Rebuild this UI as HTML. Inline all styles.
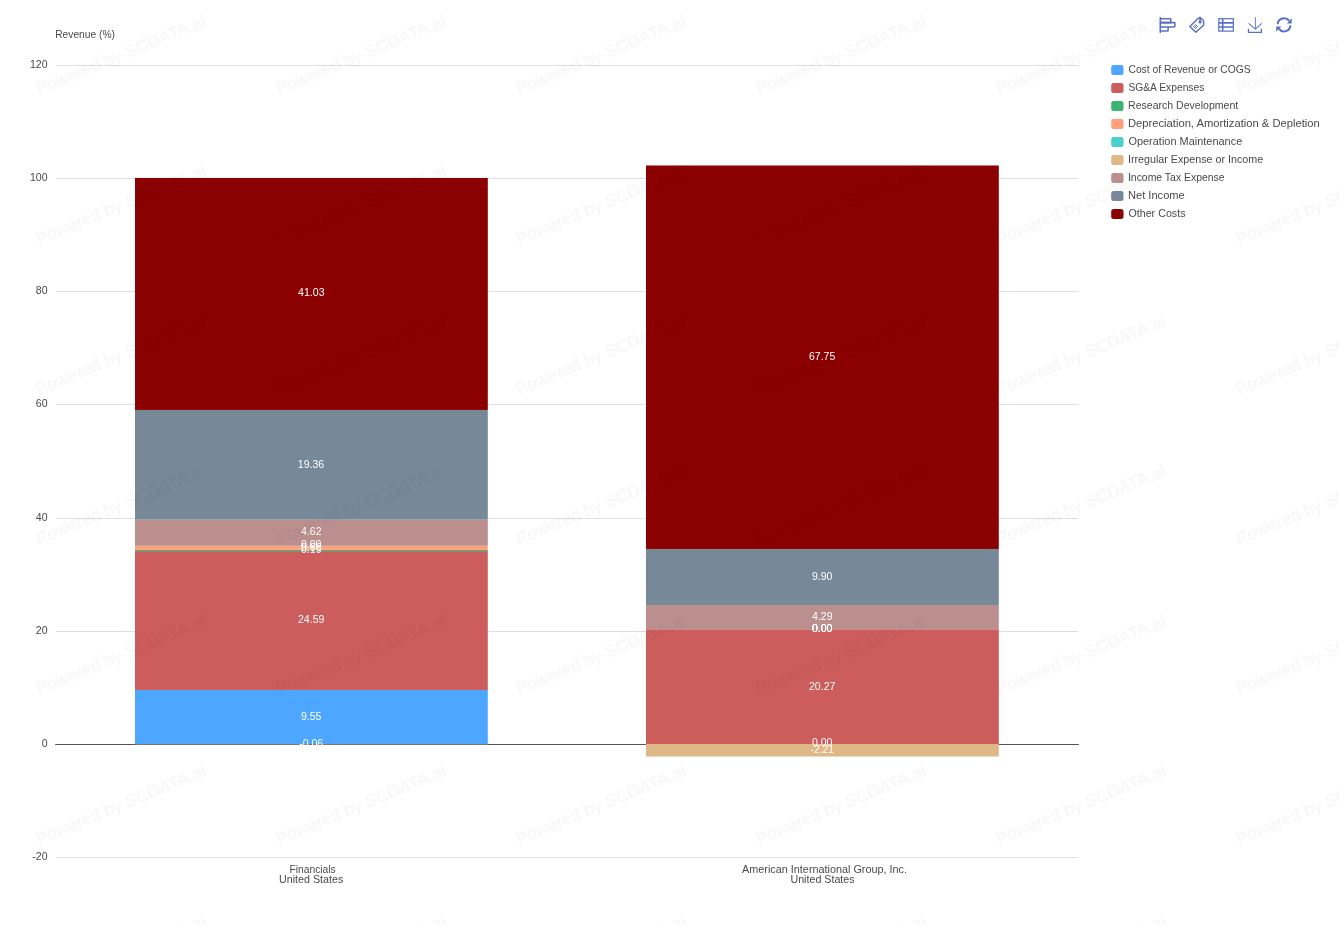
<!DOCTYPE html>
<html><head><meta charset="utf-8"><title>Revenue breakdown</title>
<style>
html,body{margin:0;padding:0;background:#fff;}
body{width:1339px;height:925px;overflow:hidden;font-family:"Liberation Sans",sans-serif;}
svg{display:block;font-family:"Liberation Sans",sans-serif;}
.ax{font-size:11px;fill:#4a4a4a;}
.lbw{font-size:11px;fill:#fff;}
.lg{font-size:11px;fill:#4a4a4a;}
.wm{font-size:17.3px;fill:#000;stroke:#000;stroke-width:0.35px;opacity:0.034;}
</style></head><body>
<svg width="1339" height="925" viewBox="0 0 1339 925">
<g style="mix-blend-mode:multiply"><rect x="0" y="0" width="1" height="1" fill="#fff"/></g>
<g>
<g stroke="#dddee7" stroke-width="1">
<line x1="56" x2="1078" y1="65.5" y2="65.5"/>
<line x1="56" x2="1078" y1="178.5" y2="178.5"/>
<line x1="56" x2="1078" y1="291.5" y2="291.5"/>
<line x1="56" x2="1078" y1="404.5" y2="404.5"/>
<line x1="56" x2="1078" y1="518.5" y2="518.5"/>
<line x1="56" x2="1078" y1="631.5" y2="631.5"/>
<line x1="56" x2="1078" y1="857.5" y2="857.5"/>
</g>
<text class="ax" x="29.90" y="67.9" textLength="17.64" lengthAdjust="spacingAndGlyphs">120</text>
<text class="ax" x="29.90" y="180.9" textLength="17.64" lengthAdjust="spacingAndGlyphs">100</text>
<text class="ax" x="35.78" y="293.9" textLength="11.77" lengthAdjust="spacingAndGlyphs">80</text>
<text class="ax" x="35.78" y="406.9" textLength="11.77" lengthAdjust="spacingAndGlyphs">60</text>
<text class="ax" x="35.79" y="520.9" textLength="11.77" lengthAdjust="spacingAndGlyphs">40</text>
<text class="ax" x="35.78" y="633.9" textLength="11.77" lengthAdjust="spacingAndGlyphs">20</text>
<text class="ax" x="41.66" y="746.9" textLength="5.88" lengthAdjust="spacingAndGlyphs">0</text>
<text class="ax" x="32.30" y="859.9" textLength="15.29" lengthAdjust="spacingAndGlyphs">-20</text>
<text class="ax" x="55.18" y="38" textLength="59.87" lengthAdjust="spacingAndGlyphs">Revenue (%)</text>
<line x1="55.2" x2="1078.9" y1="744.5" y2="744.5" stroke="#50535a" stroke-width="1"/>
<rect x="135.0" y="689.95" width="352.8" height="54.05" fill="#4da6ff"/>
<rect x="135.0" y="551.11" width="352.8" height="138.84" fill="#cd5c5c"/>
<rect x="135.0" y="549.81" width="352.8" height="1.30" fill="#3cb371"/>
<rect x="135.0" y="545.79" width="352.8" height="4.02" fill="#ffa07a"/>
<rect x="135.0" y="519.64" width="352.8" height="26.15" fill="#bc8f8f"/>
<rect x="135.0" y="409.95" width="352.8" height="109.69" fill="#778899"/>
<rect x="135.0" y="177.94" width="352.8" height="232.00" fill="#8b0000"/>
<rect x="135.0" y="744.00" width="352.8" height="0.34" fill="#deb887"/>
<rect x="646.0" y="629.27" width="352.8" height="114.73" fill="#cd5c5c"/>
<rect x="646.0" y="604.99" width="352.8" height="24.28" fill="#bc8f8f"/>
<rect x="646.0" y="548.96" width="352.8" height="56.03" fill="#778899"/>
<rect x="646.0" y="165.49" width="352.8" height="383.47" fill="#8b0000"/>
<rect x="646.0" y="744.00" width="352.8" height="12.51" fill="#deb887"/>
<g>
<text class="lbw" x="300.88" y="720" textLength="20.56" lengthAdjust="spacingAndGlyphs">9.55</text>
<text class="lbw" x="298.00" y="623" textLength="26.43" lengthAdjust="spacingAndGlyphs">24.59</text>
<text class="lbw" x="301.00" y="553" textLength="20.56" lengthAdjust="spacingAndGlyphs">0.19</text>
<text class="lbw" x="301.00" y="550.5" textLength="20.56" lengthAdjust="spacingAndGlyphs">0.66</text>
<text class="lbw" x="300.94" y="548" textLength="20.56" lengthAdjust="spacingAndGlyphs">0.00</text>
<text class="lbw" x="301.06" y="535" textLength="20.56" lengthAdjust="spacingAndGlyphs">4.62</text>
<text class="lbw" x="297.82" y="468" textLength="26.43" lengthAdjust="spacingAndGlyphs">19.36</text>
<text class="lbw" x="298.12" y="296" textLength="26.43" lengthAdjust="spacingAndGlyphs">41.03</text>
<text class="lbw" x="299.14" y="747" textLength="24.08" lengthAdjust="spacingAndGlyphs">-0.06</text>
</g>
<g>
<text class="lbw" x="811.94" y="746" textLength="20.56" lengthAdjust="spacingAndGlyphs">0.00</text>
<text class="lbw" x="809.00" y="690" textLength="26.43" lengthAdjust="spacingAndGlyphs">20.27</text>
<text class="lbw" x="811.94" y="632" textLength="20.56" lengthAdjust="spacingAndGlyphs">0.00</text>
<text class="lbw" x="811.94" y="632" textLength="20.56" lengthAdjust="spacingAndGlyphs">0.00</text>
<text class="lbw" x="811.94" y="632" textLength="20.56" lengthAdjust="spacingAndGlyphs">0.00</text>
<text class="lbw" x="812.06" y="620" textLength="20.56" lengthAdjust="spacingAndGlyphs">4.29</text>
<text class="lbw" x="811.88" y="580" textLength="20.56" lengthAdjust="spacingAndGlyphs">9.90</text>
<text class="lbw" x="808.94" y="360" textLength="26.43" lengthAdjust="spacingAndGlyphs">67.75</text>
<text class="lbw" x="810.57" y="753" textLength="23.32" lengthAdjust="spacingAndGlyphs">-2.21</text>
</g>
<text class="ax" x="289.48" y="872.7" textLength="46.30" lengthAdjust="spacingAndGlyphs">Financials</text>
<text class="ax" x="279.04" y="882.8" textLength="64.26" lengthAdjust="spacingAndGlyphs">United States</text>
<text class="ax" x="742.10" y="872.7" textLength="164.91" lengthAdjust="spacingAndGlyphs">American International Group, Inc.</text>
<text class="ax" x="790.45" y="882.8" textLength="64.16" lengthAdjust="spacingAndGlyphs">United States</text>
<g style="mix-blend-mode:multiply"><rect x="0" y="0" width="1" height="1" fill="#fff"/></g>
<g>
<rect x="1111.2" y="65" width="12.3" height="10" rx="2.5" fill="#4da6ff"/><text class="lg" x="1128.43" y="72.7" textLength="122.22" lengthAdjust="spacingAndGlyphs">Cost of Revenue or COGS</text>
<rect x="1111.2" y="83" width="12.3" height="10" rx="2.5" fill="#cd5c5c"/><text class="lg" x="1128.43" y="90.7" textLength="75.89" lengthAdjust="spacingAndGlyphs">SG&amp;A Expenses</text>
<rect x="1111.2" y="101" width="12.3" height="10" rx="2.5" fill="#3cb371"/><text class="lg" x="1128.06" y="108.7" textLength="110.21" lengthAdjust="spacingAndGlyphs">Research Development</text>
<rect x="1111.2" y="119" width="12.3" height="10" rx="2.5" fill="#ffa07a"/><text class="lg" x="1128.00" y="126.7" textLength="191.71" lengthAdjust="spacingAndGlyphs">Depreciation, Amortization &amp; Depletion</text>
<rect x="1111.2" y="137" width="12.3" height="10" rx="2.5" fill="#48d1cc"/><text class="lg" x="1128.40" y="144.7" textLength="113.88" lengthAdjust="spacingAndGlyphs">Operation Maintenance</text>
<rect x="1111.2" y="155" width="12.3" height="10" rx="2.5" fill="#deb887"/><text class="lg" x="1127.93" y="162.7" textLength="135.31" lengthAdjust="spacingAndGlyphs">Irregular Expense or Income</text>
<rect x="1111.2" y="173" width="12.3" height="10" rx="2.5" fill="#bc8f8f"/><text class="lg" x="1127.95" y="180.7" textLength="96.66" lengthAdjust="spacingAndGlyphs">Income Tax Expense</text>
<rect x="1111.2" y="191" width="12.3" height="10" rx="2.5" fill="#778899"/><text class="lg" x="1128.01" y="198.7" textLength="56.78" lengthAdjust="spacingAndGlyphs">Net Income</text>
<rect x="1111.2" y="209" width="12.3" height="10" rx="2.5" fill="#8b0000"/><text class="lg" x="1128.41" y="216.7" textLength="57.11" lengthAdjust="spacingAndGlyphs">Other Costs</text>
</g>
<g fill="none" stroke="#5970c4" stroke-width="1.55" stroke-linejoin="round" stroke-linecap="butt">
<!-- horizontal bar icon -->
<path d="M1160.3 17.1V32.9"/>
<path d="M1160.3 18.8H1170.2Q1170.8 18.8 1170.8 19.4V22.6H1160.3"/>
<path d="M1160.3 22.6H1174.2Q1174.9 22.6 1174.9 23.3V26.2Q1174.9 26.9 1174.2 26.9H1160.3"/>
<path d="M1168.1 26.9V30.4Q1168.1 31 1167.5 31H1160.3"/>
<!-- tag icon -->
<path d="M1189.9 26.5L1197.7 18.7L1200.1 17.5L1203.6 20.5V25.3L1195.8 32.2Z" stroke-width="1.45"/>
<path d="M1200.1 17.5V21.5" stroke-width="1.6"/>
<circle cx="1200.1" cy="21.9" r="1.6" fill="#5970c4" stroke="none"/>
<path d="M1195.2 24.2L1197.8 26.8M1194.2 25.2L1196.8 27.8M1193.2 26.2L1195.8 28.8" stroke-width="1"/>
<!-- table icon -->
<rect x="1218.8" y="18.7" width="14.5" height="12.4" stroke-width="1.2" stroke-linejoin="miter"/>
<path d="M1218.8 22.85H1233.3M1218.8 27H1233.3M1222.7 18.7V31.1" stroke-width="1.6"/>
<!-- download icon (echarts saveAsImage) -->
<path d="M1248.6 23.4L1255.4 29.1L1261.7 23.4" stroke-width="1.1" stroke-linejoin="miter"/>
<path d="M1255.4 29.1V17.2" stroke-width="0.9"/>
<path d="M1248.5 28.7V32.4H1261.4V28.7" stroke-width="1.35" stroke-linejoin="miter"/>
<!-- refresh icon -->
<path d="M1277.6 24.2A6.4 6.4 0 0 1 1289.2 20.9" stroke-width="2"/>
<path d="M1290.4 25.4A6.4 6.4 0 0 1 1278.8 28.7" stroke-width="2"/>
<path d="M1291.7 18.3V23.5H1286.9Z" fill="#5970c4" stroke="none"/>
<path d="M1276.2 31.6V26.4H1281.4Z" fill="#5970c4" stroke="none"/>
</g>
</g>
<g class="wm">
<text transform="translate(-201,-55) rotate(-22.5)">Powered by SCDATA.ai</text>
<text transform="translate(39,-55) rotate(-22.5)">Powered by SCDATA.ai</text>
<text transform="translate(279,-55) rotate(-22.5)">Powered by SCDATA.ai</text>
<text transform="translate(519,-55) rotate(-22.5)">Powered by SCDATA.ai</text>
<text transform="translate(759,-55) rotate(-22.5)">Powered by SCDATA.ai</text>
<text transform="translate(999,-55) rotate(-22.5)">Powered by SCDATA.ai</text>
<text transform="translate(1239,-55) rotate(-22.5)">Powered by SCDATA.ai</text>
<text transform="translate(-201,95) rotate(-22.5)">Powered by SCDATA.ai</text>
<text transform="translate(39,95) rotate(-22.5)">Powered by SCDATA.ai</text>
<text transform="translate(279,95) rotate(-22.5)">Powered by SCDATA.ai</text>
<text transform="translate(519,95) rotate(-22.5)">Powered by SCDATA.ai</text>
<text transform="translate(759,95) rotate(-22.5)">Powered by SCDATA.ai</text>
<text transform="translate(999,95) rotate(-22.5)">Powered by SCDATA.ai</text>
<text transform="translate(1239,95) rotate(-22.5)">Powered by SCDATA.ai</text>
<text transform="translate(-201,245) rotate(-22.5)">Powered by SCDATA.ai</text>
<text transform="translate(39,245) rotate(-22.5)">Powered by SCDATA.ai</text>
<text transform="translate(279,245) rotate(-22.5)">Powered by SCDATA.ai</text>
<text transform="translate(519,245) rotate(-22.5)">Powered by SCDATA.ai</text>
<text transform="translate(759,245) rotate(-22.5)">Powered by SCDATA.ai</text>
<text transform="translate(999,245) rotate(-22.5)">Powered by SCDATA.ai</text>
<text transform="translate(1239,245) rotate(-22.5)">Powered by SCDATA.ai</text>
<text transform="translate(-201,395) rotate(-22.5)">Powered by SCDATA.ai</text>
<text transform="translate(39,395) rotate(-22.5)">Powered by SCDATA.ai</text>
<text transform="translate(279,395) rotate(-22.5)">Powered by SCDATA.ai</text>
<text transform="translate(519,395) rotate(-22.5)">Powered by SCDATA.ai</text>
<text transform="translate(759,395) rotate(-22.5)">Powered by SCDATA.ai</text>
<text transform="translate(999,395) rotate(-22.5)">Powered by SCDATA.ai</text>
<text transform="translate(1239,395) rotate(-22.5)">Powered by SCDATA.ai</text>
<text transform="translate(-201,545) rotate(-22.5)">Powered by SCDATA.ai</text>
<text transform="translate(39,545) rotate(-22.5)">Powered by SCDATA.ai</text>
<text transform="translate(279,545) rotate(-22.5)">Powered by SCDATA.ai</text>
<text transform="translate(519,545) rotate(-22.5)">Powered by SCDATA.ai</text>
<text transform="translate(759,545) rotate(-22.5)">Powered by SCDATA.ai</text>
<text transform="translate(999,545) rotate(-22.5)">Powered by SCDATA.ai</text>
<text transform="translate(1239,545) rotate(-22.5)">Powered by SCDATA.ai</text>
<text transform="translate(-201,695) rotate(-22.5)">Powered by SCDATA.ai</text>
<text transform="translate(39,695) rotate(-22.5)">Powered by SCDATA.ai</text>
<text transform="translate(279,695) rotate(-22.5)">Powered by SCDATA.ai</text>
<text transform="translate(519,695) rotate(-22.5)">Powered by SCDATA.ai</text>
<text transform="translate(759,695) rotate(-22.5)">Powered by SCDATA.ai</text>
<text transform="translate(999,695) rotate(-22.5)">Powered by SCDATA.ai</text>
<text transform="translate(1239,695) rotate(-22.5)">Powered by SCDATA.ai</text>
<text transform="translate(-201,845) rotate(-22.5)">Powered by SCDATA.ai</text>
<text transform="translate(39,845) rotate(-22.5)">Powered by SCDATA.ai</text>
<text transform="translate(279,845) rotate(-22.5)">Powered by SCDATA.ai</text>
<text transform="translate(519,845) rotate(-22.5)">Powered by SCDATA.ai</text>
<text transform="translate(759,845) rotate(-22.5)">Powered by SCDATA.ai</text>
<text transform="translate(999,845) rotate(-22.5)">Powered by SCDATA.ai</text>
<text transform="translate(1239,845) rotate(-22.5)">Powered by SCDATA.ai</text>
<text transform="translate(-201,995) rotate(-22.5)">Powered by SCDATA.ai</text>
<text transform="translate(39,995) rotate(-22.5)">Powered by SCDATA.ai</text>
<text transform="translate(279,995) rotate(-22.5)">Powered by SCDATA.ai</text>
<text transform="translate(519,995) rotate(-22.5)">Powered by SCDATA.ai</text>
<text transform="translate(759,995) rotate(-22.5)">Powered by SCDATA.ai</text>
<text transform="translate(999,995) rotate(-22.5)">Powered by SCDATA.ai</text>
<text transform="translate(1239,995) rotate(-22.5)">Powered by SCDATA.ai</text>
</g>
</svg>
</body></html>
